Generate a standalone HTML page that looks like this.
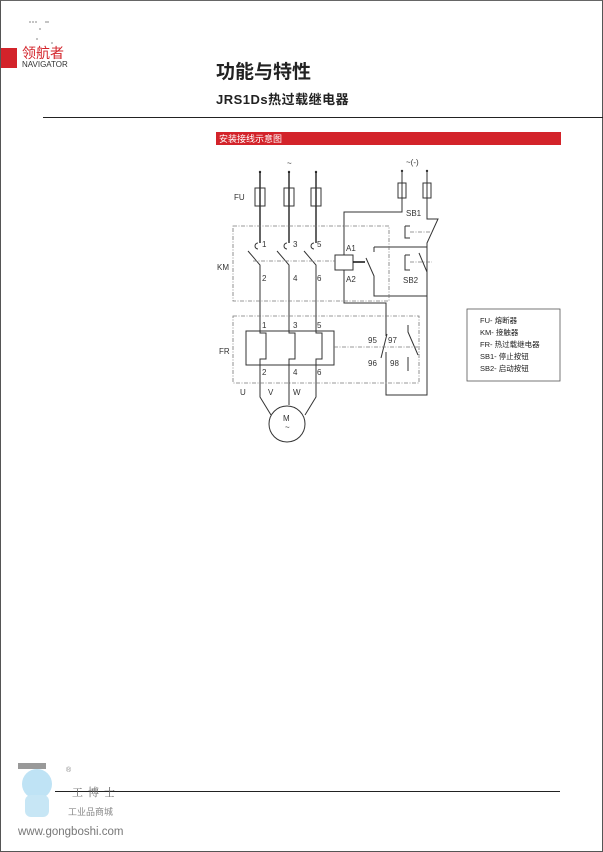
<!DOCTYPE html>
<html><head><meta charset="utf-8"><style>
html,body{margin:0;padding:0;background:#fff}
body{width:603px;height:852px;position:relative;overflow:hidden;font-family:"Liberation Sans","Noto Sans CJK SC",sans-serif}
.b{position:absolute;box-sizing:border-box}
</style></head><body>
<div class="b" style="left:0;top:0;width:603px;height:852px;border:1px solid #555;border-top:1px solid #666"></div>
<div class="b" style="left:1px;top:48px;width:16px;height:20px;background:#d3232a"></div>
<div class="b" style="left:22px;top:46px;font-size:14px;color:#d3232a;line-height:15px;font-family:'Noto Sans CJK SC',sans-serif">领航者</div>
<div class="b" style="left:22px;top:61px;font-size:8px;color:#333;line-height:8px">NAVIGATOR</div>
<div class="b" style="left:216px;top:59px;font-size:19px;color:#222;line-height:24px;font-weight:bold;font-family:'Noto Sans CJK SC',sans-serif">功能与特性</div>
<div class="b" style="left:216px;top:90px;font-size:13px;color:#222;font-weight:bold;line-height:17px;letter-spacing:0.5px">JRS1Ds<span style="font-family:'Noto Sans CJK SC',sans-serif">热过载继电器</span></div>
<div class="b" style="left:43px;top:117px;width:560px;height:1px;background:#222"></div>
<div class="b" style="left:216px;top:132px;width:345px;height:13px;background:#d3232a;color:#fff;font-size:9px;line-height:13px;padding-left:3px;font-family:'Noto Sans CJK SC',sans-serif">安装接线示意图</div>
<div class="b" style="left:55px;top:791px;width:505px;height:1px;background:#222"></div>
<div class="b" style="left:18px;top:826px;font-size:11.5px;color:#777">www.gongboshi.com</div>
<div class="b" style="left:68px;top:805px;font-size:9px;color:#888;font-family:'Noto Sans CJK SC',sans-serif">工业品商城</div>
<div class="b" style="left:72px;top:784px;font-size:11px;color:#666;letter-spacing:5px;font-family:'Noto Serif CJK SC',serif">工博士</div>
<div class="b" style="left:22px;top:769px;width:30px;height:30px;border-radius:50%;background:#bfe3f5"></div>
<div class="b" style="left:25px;top:795px;width:24px;height:22px;border-radius:6px;background:#c7e6f5"></div>
<div class="b" style="left:18px;top:763px;width:28px;height:6px;background:#999"></div>
<svg class="b" style="left:0;top:0" width="603" height="852" viewBox="0 0 603 852" font-family="Liberation Sans, sans-serif" font-size="8" fill="none" stroke="#333" stroke-width="1">
<g fill="#333" stroke="none">
<text x="287" y="166">~</text><text x="406" y="165">~(-)</text>
<text x="234" y="200">FU</text><text x="406" y="216">SB1</text>
<text x="217" y="270">KM</text><text x="403" y="283">SB2</text>
<text x="346" y="251">A1</text><text x="346" y="282">A2</text>
<text x="262" y="247">1</text><text x="293" y="247">3</text><text x="317" y="247">5</text>
<text x="262" y="281">2</text><text x="293" y="281">4</text><text x="317" y="281">6</text>
<text x="219" y="354">FR</text>
<text x="262" y="328">1</text><text x="293" y="328">3</text><text x="317" y="328">5</text>
<text x="262" y="375">2</text><text x="293" y="375">4</text><text x="317" y="375">6</text>
<text x="368" y="343">95</text><text x="388" y="343">97</text>
<text x="368" y="366">96</text><text x="390" y="366">98</text>
<text x="240" y="395">U</text><text x="268" y="395">V</text><text x="293" y="395">W</text>
<text x="283" y="421">M</text><text x="285" y="430">~</text>
<circle cx="260" cy="172" r="1.2"/><circle cx="289" cy="172" r="1.2"/><circle cx="316" cy="172" r="1.2"/>
<circle cx="402" cy="171" r="1.2"/><circle cx="427" cy="171" r="1.2"/>
<circle cx="30" cy="22" r="0.6"/><circle cx="33" cy="22" r="0.6"/><circle cx="36" cy="22" r="0.6"/><circle cx="46" cy="22" r="0.6"/><circle cx="48" cy="22" r="0.6"/><circle cx="40" cy="29" r="0.6"/><circle cx="37" cy="39" r="0.6"/><circle cx="52" cy="43" r="0.6"/>
</g>
<g stroke="#111" stroke-width="1.3">
<path d="M260 172V243M289 172V243M316 172V243"/>
</g>
<g>
<rect x="255" y="188" width="10" height="18"/><rect x="284" y="188" width="10" height="18"/><rect x="311" y="188" width="10" height="18"/>
<rect x="398" y="183" width="8" height="15"/><rect x="423" y="183" width="8" height="15"/>
<path d="M402 171V212H344V255M427 171V219H438L427 243V296M374 247H427M374 247V252M366 258L374 276V296H427M419 253L427 272V395H386V352"/>
<path d="M258 243a3 3 0 0 0 0 6M287 243a3 3 0 0 0 0 6M314 243a3 3 0 0 0 0 6"/>
<path d="M248 251L260 265V333H266V359H260V397L271 415M277 251L289 265V333H295V359H289V405M304 251L316 265V333H322V359H316V397L305 415"/>
<rect x="335" y="255" width="18" height="15"/>
<path d="M344 270V303H386V336M381 358L387 334"/>
<path stroke="#111" stroke-width="1.5" d="M353 262H365"/>
<rect x="246" y="331" width="88" height="34"/>
<path d="M405 226H410M405 226V238H410M405 255H410M405 255V270H410"/>
<path d="M408 325V332L418 355M408 357V371" />
<circle cx="287" cy="424" r="18"/>
</g>
<g stroke="#777" stroke-dasharray="4 1.5 1 1.5" stroke-width="0.8">
<rect x="233" y="226" width="156" height="75"/>
<rect x="233" y="316" width="186" height="67"/>
<path d="M253 261H335M410 232H432M410 262H432M334 347H419"/>
</g>
<rect x="467" y="309" width="93" height="72" stroke="#555" stroke-width="0.8"/>
<g fill="#222" stroke="none" font-size="7.5" font-family="Liberation Sans, Noto Sans CJK SC, sans-serif">
<text x="480" y="323">FU- 熔断器</text><text x="480" y="335">KM- 接触器</text>
<text x="480" y="347">FR- 热过载继电器</text><text x="480" y="359">SB1- 停止按钮</text>
<text x="480" y="371">SB2- 启动按钮</text>
<text x="66" y="772" fill="#888" font-size="7">®</text>
</g>
</svg>
</body></html>
